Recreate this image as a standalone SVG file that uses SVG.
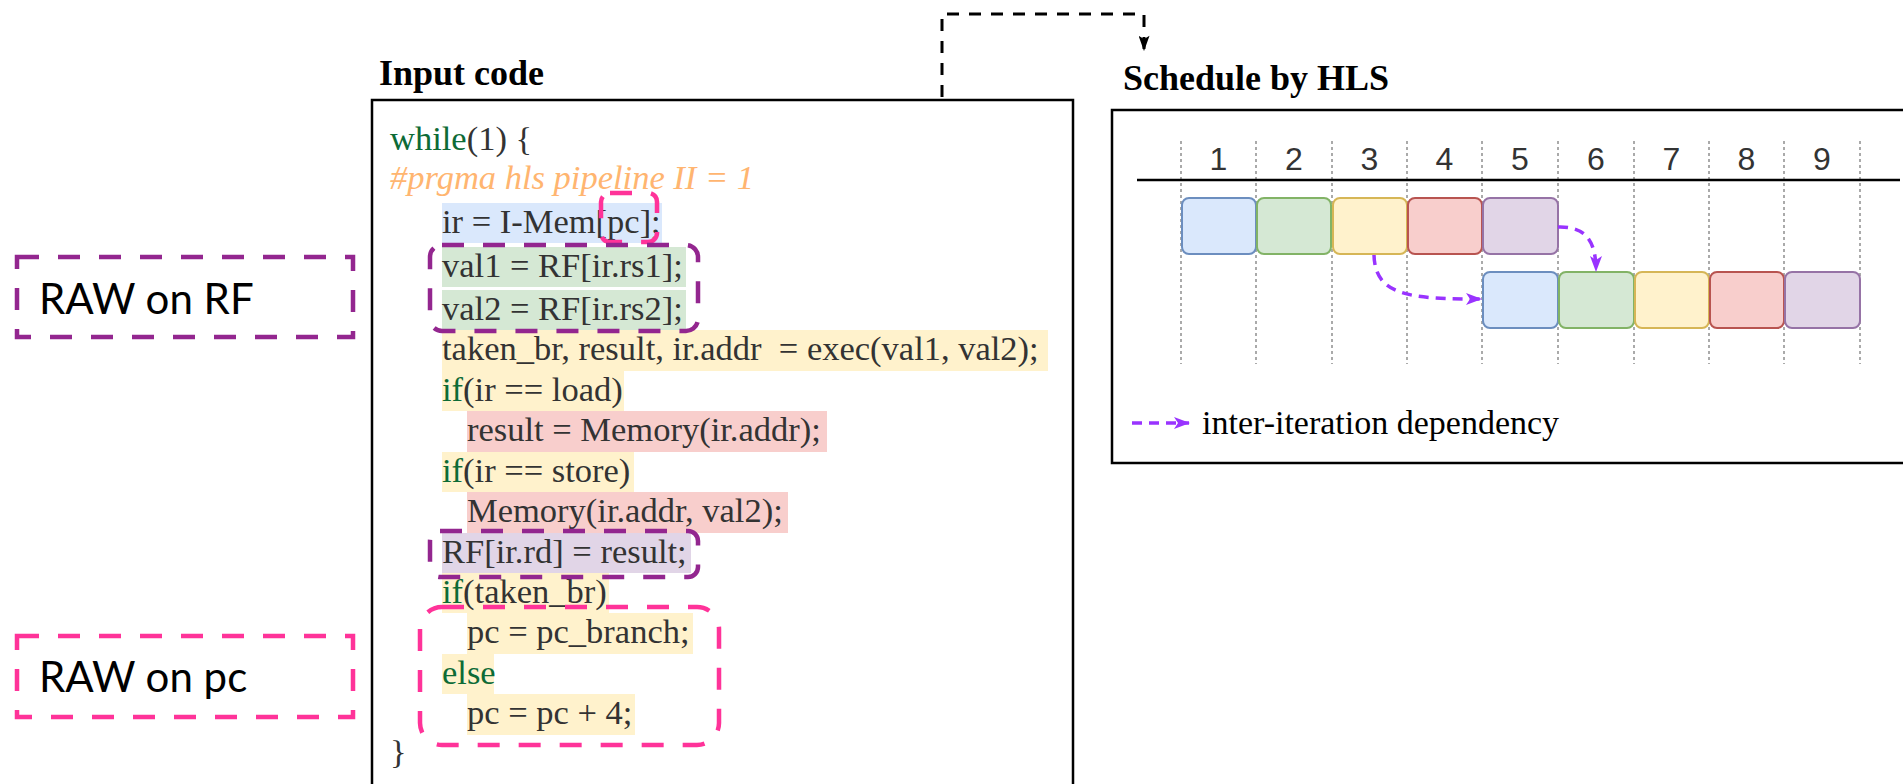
<svg xmlns="http://www.w3.org/2000/svg" width="1903" height="784" viewBox="0 0 1903 784">
  <defs>
    <style>
      .title { font-family: "Liberation Serif", "Times New Roman", serif; font-weight: bold; font-size: 36px; fill: #000; }
      .code { font-family: "Liberation Serif", "Times New Roman", serif; font-size: 34.5px; fill: #333333; }
      .kw { fill: #0d6b36; }
      .pragma { fill: #ffb570; font-style: italic; }
      .note { font-family: Lato, "Open Sans", sans-serif; font-size: 42px; fill: #000; }
      .num { font-family: "Liberation Sans", Arial, sans-serif; font-size: 32px; fill: #333333; text-anchor: middle; }
      .legend { font-family: "Liberation Serif", "Times New Roman", serif; font-size: 34px; fill: #000; }
      .panel { fill: #ffffff; stroke: #000; stroke-width: 2.5; }
      .rf-box { fill: none; stroke: #93268f; stroke-width: 4.5; stroke-dasharray: 22 19; }
      .pc-box { fill: none; stroke: #ff3399; stroke-width: 4.5; stroke-dasharray: 22 19; }
      .grid { stroke: #aaaaaa; stroke-width: 2; stroke-dasharray: 3 3; }
      .blk { stroke-width: 2; }
      .blue { fill: #dae8fc; stroke: #6c8ebf; }
      .green { fill: #d5e8d4; stroke: #82b366; }
      .yellow { fill: #fff2cc; stroke: #d6b656; }
      .red { fill: #f8cecc; stroke: #b85450; }
      .purple { fill: #e1d5e7; stroke: #9673a6; }
      .dep { fill: none; stroke: #9933ff; stroke-width: 3.5; stroke-dasharray: 10 7; }
      .flow { fill: none; stroke: #000; stroke-width: 3; stroke-dasharray: 12 10; }
    </style>
    <marker id="dep-head" viewBox="0 0 16 12" refX="15" refY="6" markerWidth="16" markerHeight="12" markerUnits="userSpaceOnUse" orient="auto">
      <path d="M0,0 L16,6 L0,12 L4,6 z" fill="#9933ff"/>
    </marker>
    <marker id="flow-head" viewBox="0 0 14 10" refX="13" refY="5" markerWidth="16" markerHeight="11" markerUnits="userSpaceOnUse" orient="auto">
      <path d="M0,0 L14,5 L0,10 L3,5 z" fill="#000"/>
    </marker>
  </defs>

  <rect width="1903" height="784" fill="#ffffff"/>

  <!-- connectors -->
  <g id="connectors">
    <path class="flow" d="M942,97 V14 H1144 V50" marker-end="url(#flow-head)"/>
  </g>

  <!-- input code panel -->
  <g id="input-code">
    <text class="title" x="379" y="85">Input code</text>
    <rect class="panel" x="372" y="100" width="701" height="700"/>

    <!-- line highlights -->
    <rect x="442" y="203" width="220" height="40" fill="#dae8fc"/>
    <rect x="442" y="247" width="244" height="40" fill="#d5e8d4"/>
    <rect x="442" y="290" width="244" height="40" fill="#d5e8d4"/>
    <rect x="442" y="330" width="606" height="41" fill="#fff2cc"/>
    <rect x="442" y="371" width="182" height="40" fill="#fff2cc"/>
    <rect x="467" y="411" width="360" height="41" fill="#f8cecc"/>
    <rect x="442" y="452" width="192" height="40" fill="#fff2cc"/>
    <rect x="467" y="492" width="321" height="41" fill="#f8cecc"/>
    <rect x="442" y="533" width="249" height="40" fill="#e1d5e7"/>
    <rect x="442" y="573" width="167" height="40" fill="#fff2cc"/>
    <rect x="467" y="613" width="226" height="41" fill="#fff2cc"/>
    <rect x="442" y="654" width="52" height="40" fill="#fff2cc"/>
    <rect x="467" y="694" width="168" height="41" fill="#fff2cc"/>

    <!-- source lines -->
    <text class="code" x="390" y="150"><tspan class="kw">while</tspan>(1) {</text>
    <text class="code pragma" x="390" y="189">#prgma hls pipeline II = 1</text>
    <text class="code" x="442" y="233">ir = I-Mem[pc];</text>
    <text class="code" x="442" y="277">val1 = RF[ir.rs1];</text>
    <text class="code" x="442" y="320">val2 = RF[ir.rs2];</text>
    <text class="code" x="442" y="360" xml:space="preserve">taken_br, result, ir.addr  = exec(val1, val2);</text>
    <text class="code" x="442" y="401"><tspan class="kw">if</tspan>(ir == load)</text>
    <text class="code" x="467" y="441">result = Memory(ir.addr);</text>
    <text class="code" x="442" y="482"><tspan class="kw">if</tspan>(ir == store)</text>
    <text class="code" x="467" y="522">Memory(ir.addr, val2);</text>
    <text class="code" x="442" y="563">RF[ir.rd] = result;</text>
    <text class="code" x="442" y="603"><tspan class="kw">if</tspan>(taken_br)</text>
    <text class="code" x="467" y="643">pc = pc_branch;</text>
    <text class="code kw" x="442" y="684">else</text>
    <text class="code" x="467" y="724">pc = pc + 4;</text>
    <text class="code" x="390" y="763">}</text>
  </g>

  <!-- hazard outlines over the code -->
  <g id="hazards">
    <rect class="pc-box" x="601" y="193" width="56" height="49" rx="9"/>
    <rect class="rf-box" x="430" y="245" width="268" height="86" rx="12"/>
    <rect class="rf-box" x="430" y="531" width="268" height="46" rx="10"/>
    <rect class="pc-box" x="420" y="607" width="299" height="138" rx="22"/>
  </g>

  <!-- hazard labels -->
  <g id="raw-rf">
    <rect class="rf-box" x="17" y="257" width="336" height="80"/>
    <text class="note" x="39" y="314">RAW on RF</text>
  </g>
  <g id="raw-pc">
    <rect class="pc-box" x="17" y="636" width="336" height="81"/>
    <text class="note" x="39" y="692">RAW on pc</text>
  </g>

  <!-- schedule panel -->
  <g id="schedule">
    <text class="title" x="1123" y="90">Schedule by HLS</text>
    <rect class="panel" x="1112" y="110" width="820" height="353"/>

    <g id="cycle-grid">
      <line class="grid" x1="1181" y1="141" x2="1181" y2="364"/>
      <line class="grid" x1="1256" y1="141" x2="1256" y2="364"/>
      <line class="grid" x1="1332" y1="141" x2="1332" y2="364"/>
      <line class="grid" x1="1407" y1="141" x2="1407" y2="364"/>
      <line class="grid" x1="1482" y1="141" x2="1482" y2="364"/>
      <line class="grid" x1="1558" y1="141" x2="1558" y2="364"/>
      <line class="grid" x1="1634" y1="141" x2="1634" y2="364"/>
      <line class="grid" x1="1709" y1="141" x2="1709" y2="364"/>
      <line class="grid" x1="1784" y1="141" x2="1784" y2="364"/>
      <line class="grid" x1="1860" y1="141" x2="1860" y2="364"/>
      <line x1="1137" y1="180" x2="1900" y2="180" stroke="#000" stroke-width="2.5"/>
      <text class="num" x="1218.5" y="170">1</text>
      <text class="num" x="1294" y="170">2</text>
      <text class="num" x="1369.5" y="170">3</text>
      <text class="num" x="1444.5" y="170">4</text>
      <text class="num" x="1520" y="170">5</text>
      <text class="num" x="1596" y="170">6</text>
      <text class="num" x="1671.5" y="170">7</text>
      <text class="num" x="1746.5" y="170">8</text>
      <text class="num" x="1822" y="170">9</text>
    </g>

    <g id="iteration-1">
      <rect class="blk blue" x="1182" y="198" width="74" height="56" rx="7"/>
      <rect class="blk green" x="1257" y="198" width="74" height="56" rx="7"/>
      <rect class="blk yellow" x="1333" y="198" width="74" height="56" rx="7"/>
      <rect class="blk red" x="1408" y="198" width="74" height="56" rx="7"/>
      <rect class="blk purple" x="1483" y="198" width="75" height="56" rx="7"/>
    </g>
    <g id="iteration-2">
      <rect class="blk blue" x="1483" y="272" width="75" height="56" rx="7"/>
      <rect class="blk green" x="1559" y="272" width="75" height="56" rx="7"/>
      <rect class="blk yellow" x="1635" y="272" width="74" height="56" rx="7"/>
      <rect class="blk red" x="1710" y="272" width="74" height="56" rx="7"/>
      <rect class="blk purple" x="1785" y="272" width="75" height="56" rx="7"/>
    </g>

    <g id="dependencies">
      <path class="dep" d="M1558,227 C1588,226 1596,244 1596,271" marker-end="url(#dep-head)"/>
      <path class="dep" d="M1374,255 C1375,296 1410,299 1481,299" marker-end="url(#dep-head)"/>
    </g>

    <g id="legend">
      <path class="dep" d="M1132,423 H1189" marker-end="url(#dep-head)"/>
      <text class="legend" x="1202" y="434">inter-iteration dependency</text>
    </g>
  </g>
</svg>
